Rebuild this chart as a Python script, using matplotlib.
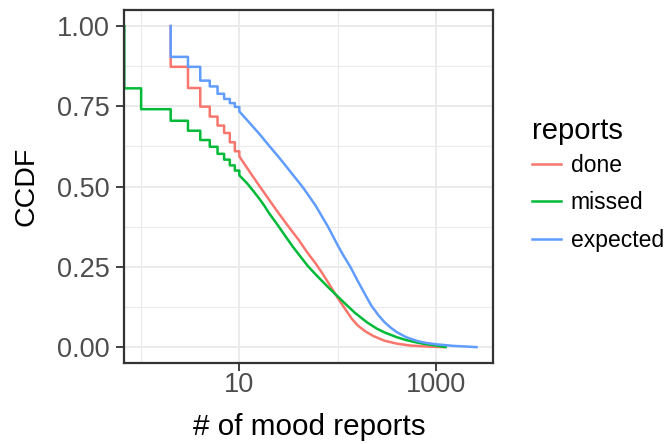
import numpy as np
import matplotlib
matplotlib.use("Agg")
import matplotlib.pyplot as plt

plt.rcParams["font.family"] = ["Liberation Sans", "DejaVu Sans"]

# CCDF of mood reports per user
# integer part: value held from x to the next x (steps)
done_x = [2, 3, 4, 5, 6, 7, 8, 9, 10]
done_y = [0.873, 0.807, 0.749, 0.718, 0.690, 0.667, 0.638, 0.610, 0.594]
done_tail_x = [12, 14, 16, 18, 20, 25, 30, 35, 40, 45, 50, 60, 70, 80, 95, 110, 125,
               140, 160, 190, 230, 300, 400, 550, 800, 1200]
done_tail_y = [0.558, 0.528, 0.502, 0.480, 0.460, 0.418, 0.385, 0.358, 0.335, 0.312,
               0.292, 0.260, 0.230, 0.202, 0.165, 0.135, 0.110, 0.088, 0.068, 0.050,
               0.035, 0.020, 0.011, 0.005, 0.002, 0.0]

missed_x = [0, 1, 2, 3, 4, 5, 6, 7, 8, 9, 10]
missed_y = [0.806, 0.741, 0.705, 0.674, 0.645, 0.624, 0.602, 0.584, 0.566, 0.550, 0.535]
missed_tail_x = [12, 14, 16, 18, 20, 25, 30, 35, 40, 50, 60, 70, 80, 95, 120, 150,
                 200, 250, 300, 400, 500, 650, 800, 1000, 1260]
missed_tail_y = [0.510, 0.485, 0.462, 0.440, 0.418, 0.377, 0.342, 0.313, 0.290, 0.252,
                 0.226, 0.205, 0.187, 0.165, 0.135, 0.107, 0.077, 0.058, 0.046, 0.031,
                 0.022, 0.014, 0.009, 0.005, 0.0]

expected_x = [2, 3, 4, 5, 6, 7, 8, 9, 10]
expected_y = [0.904, 0.873, 0.830, 0.812, 0.789, 0.773, 0.760, 0.748, 0.734]
expected_tail_x = [12, 14, 16, 18, 20, 25, 30, 35, 40, 45, 50, 60, 70, 80, 90, 100,
                   115, 135, 160, 190, 220, 260, 300, 350, 400, 500, 650, 800, 1000,
                   1500, 2000, 2600]
expected_tail_y = [0.707, 0.684, 0.664, 0.645, 0.628, 0.593, 0.563, 0.537, 0.515, 0.495,
                   0.475, 0.440, 0.405, 0.375, 0.345, 0.318, 0.285, 0.250, 0.207, 0.165,
                   0.130, 0.100, 0.078, 0.060, 0.047, 0.031, 0.019, 0.013, 0.009, 0.004,
                   0.002, 0.0]

labels = ["done", "missed", "expected"]
colors = ["#F8766D", "#00BA38", "#619CFF"]

xmin, xmax = 10 ** -0.171, 10 ** 3.586


def ccdf_path(x, y, tx, ty):
    x = np.asarray(x, dtype=float)
    x = np.where(x <= 0, xmin, x)  # zero counts sit at the left edge (-Inf on log)
    xs = np.repeat(x, 2)
    ys = np.concatenate([[1.0], np.repeat(y, 2)[:-1]])
    return np.concatenate([xs, tx]), np.concatenate([ys, ty])


fig = plt.figure(figsize=(6.67, 4.44), dpi=100)
ax = fig.add_axes([0.1864, 0.182, 0.5532, 0.7955])

series = [
    (done_x, done_y, done_tail_x, done_tail_y),
    (missed_x, missed_y, missed_tail_x, missed_tail_y),
    (expected_x, expected_y, expected_tail_x, expected_tail_y),
]
for (sx, sy, tx, ty), lab, col in zip(series, labels, colors):
    px, py = ccdf_path(sx, sy, tx, ty)
    ax.plot(px, py, color=col, lw=1.8, label=lab)

ax.set_xscale("log")
ax.set_xlim(xmin, xmax)
ax.set_ylim(-0.05, 1.05)

ax.set_xticks([10, 1000])
ax.set_xticklabels(["10", "1000"])
ax.set_xticks([1, 100], minor=True)
ax.xaxis.set_minor_formatter(matplotlib.ticker.NullFormatter())
ax.set_yticks([0, 0.25, 0.5, 0.75, 1.0])
ax.set_yticklabels(["0.00", "0.25", "0.50", "0.75", "1.00"])
ax.set_yticks([0.125, 0.375, 0.625, 0.875], minor=True)

ax.grid(True, which="major", color="#EBEBEB", lw=1.4)
ax.grid(True, which="minor", color="#EBEBEB", lw=0.8)
ax.set_axisbelow(True)

ax.tick_params(which="major", length=5.5, width=1.3, color="#333333",
               labelsize=19.5, labelcolor="#4D4D4D")
ax.tick_params(axis="x", pad=1)
ax.tick_params(axis="y", pad=5)
ax.tick_params(which="minor", length=0)
for s in ax.spines.values():
    s.set_color("#333333")
    s.set_linewidth(1.6)
    s.set_zorder(3)

ax.set_xlabel("# of mood reports", fontsize=21.3, va="baseline")
ax.xaxis.set_label_coords(0.5, -0.203)
ax.set_ylabel("CCDF", fontsize=20.5, va="baseline")
ax.yaxis.set_label_coords(-0.247, 0.5)

leg = ax.legend(title="reports", loc="upper left", bbox_to_anchor=(0.797, 0.736),
                bbox_transform=fig.transFigure, frameon=False, fontsize=16.5,
                title_fontsize=21, handlelength=1.3, handletextpad=0.4,
                labelspacing=0.62, borderpad=0, borderaxespad=0, alignment="left")
leg._legend_box.sep = 6.5  # tighter gap under the legend title

fig.savefig("out.png", dpi=100)
